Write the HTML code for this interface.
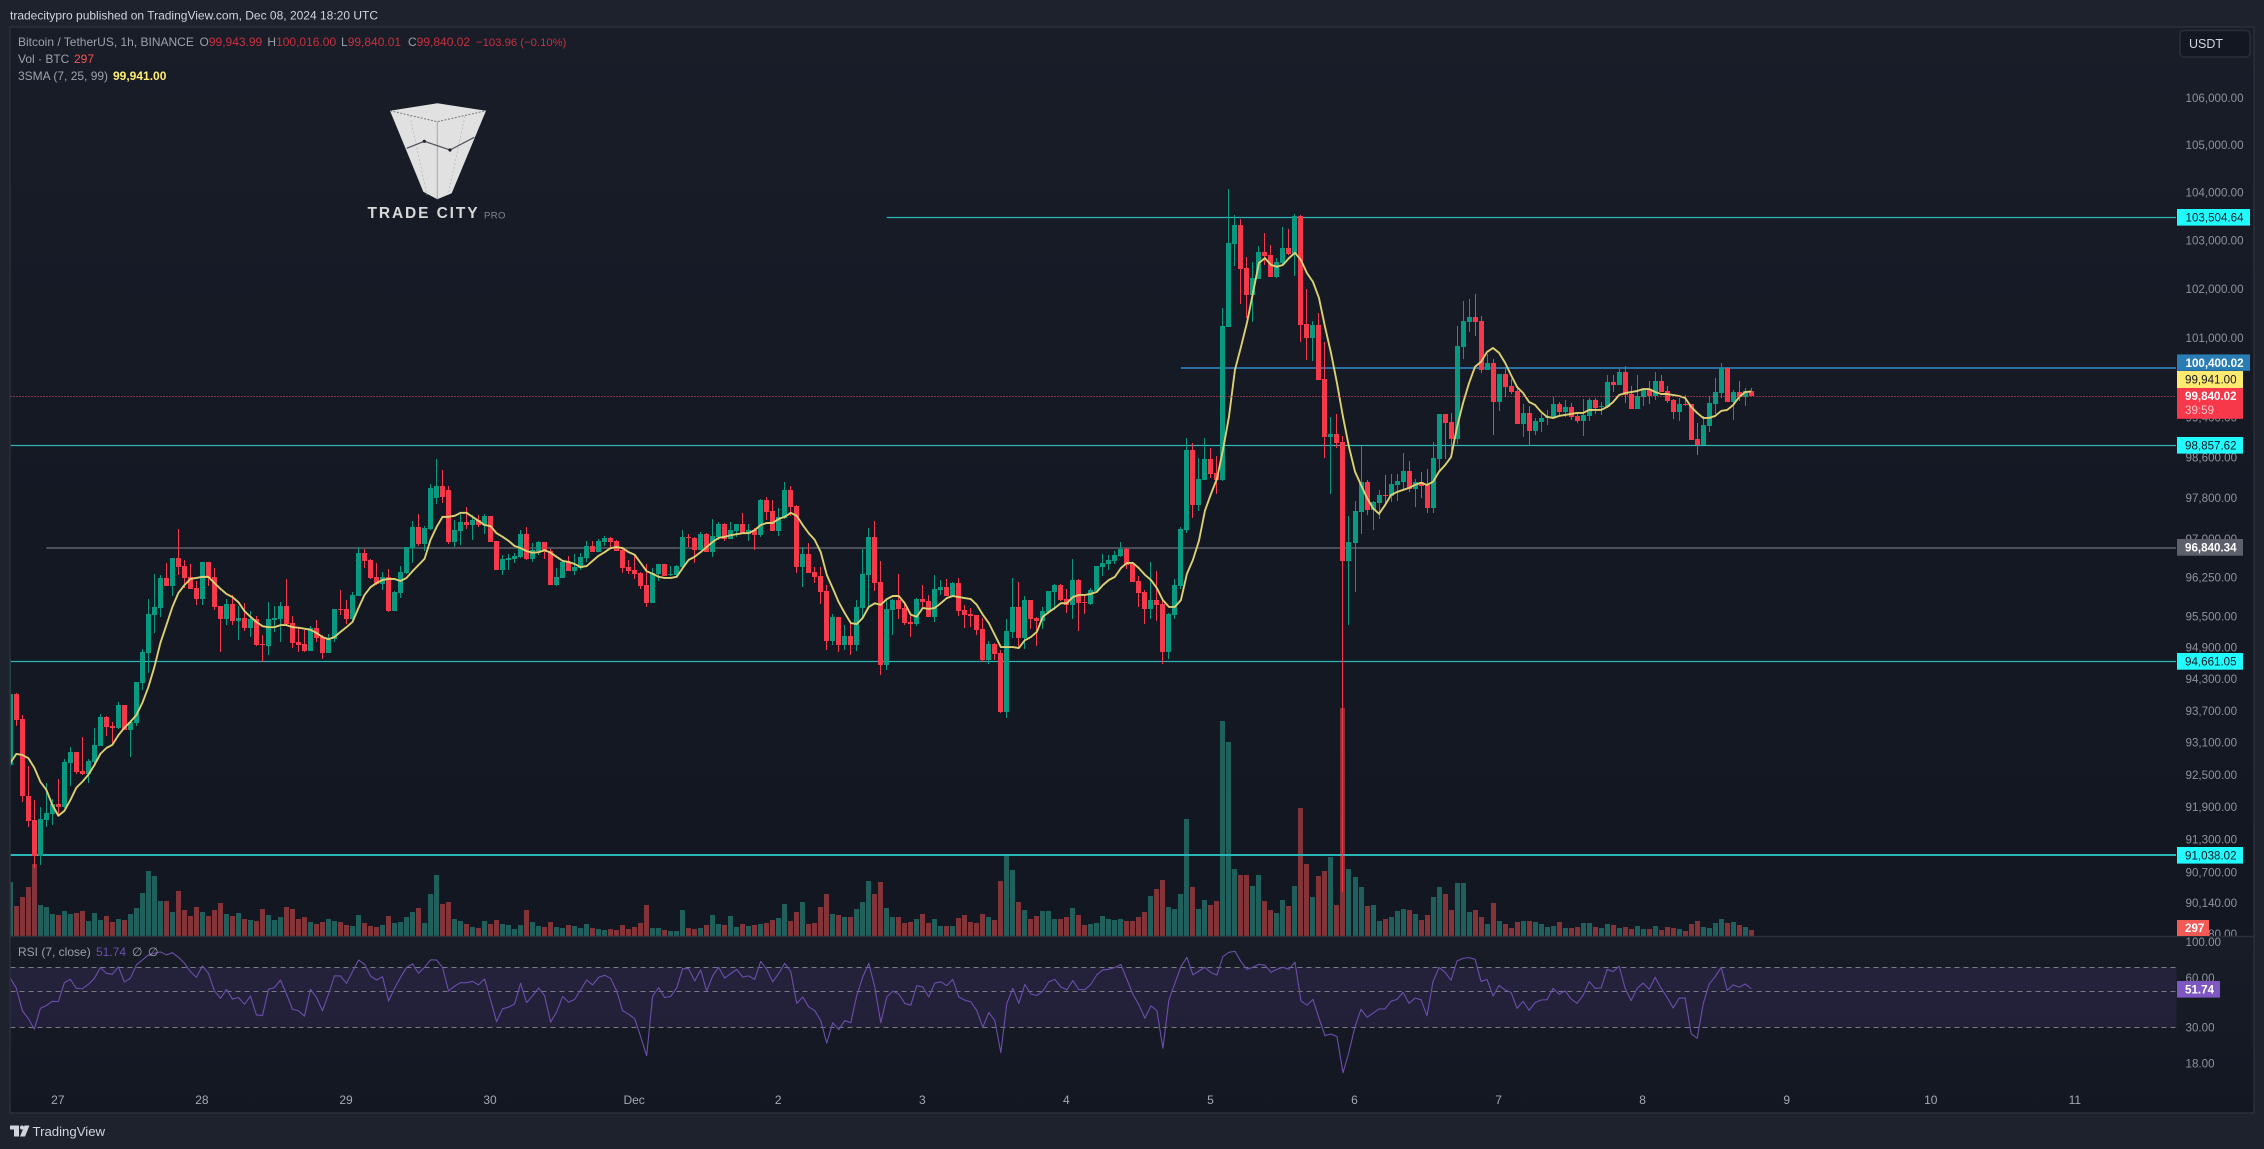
<!DOCTYPE html>
<html lang="en">
<head>
<meta charset="utf-8">
<title>BTCUSDT chart</title>
<style>
html,body{margin:0;padding:0;background:#1e222d;width:2264px;height:1149px;overflow:hidden}
svg{display:block}
text{font-family:"Liberation Sans",sans-serif}
</style>
</head>
<body>
<svg id="chart" width="2264" height="1149" viewBox="0 0 2264 1149" xmlns="http://www.w3.org/2000/svg">
<defs>
<linearGradient id="pg" x1="0" y1="0" x2="0" y2="1"><stop offset="0" stop-color="#191d28"/><stop offset="0.55" stop-color="#141823"/><stop offset="1" stop-color="#131722"/></linearGradient>
<linearGradient id="rg" x1="0" y1="0" x2="0" y2="1"><stop offset="0" stop-color="#181c27"/><stop offset="1" stop-color="#131722"/></linearGradient>
<clipPath id="mainClip"><rect x="10.5" y="27" width="2166" height="909"/></clipPath>
<clipPath id="axisClip"><rect x="2177" y="27" width="76" height="909"/></clipPath>
<clipPath id="rsiClip"><rect x="10.5" y="937" width="2166" height="176"/></clipPath>
</defs>
<rect x="0" y="0" width="2264" height="1149" fill="#1e222d"/>
<text x="10" y="19.5" font-size="12" fill="#d1d4dc">tradecitypro published on TradingView.com, Dec 08, 2024 18:20 UTC</text>
<rect x="10" y="27" width="2244" height="909" fill="url(#pg)"/>
<rect x="10" y="936" width="2244" height="177" fill="url(#rg)"/>

<g id="volumeLayer" clip-path="url(#mainClip)"></g>
<g id="levelLayer" clip-path="url(#mainClip)"></g>
<g id="candleLayer" clip-path="url(#mainClip)"></g>
<polyline id="smaLine" clip-path="url(#mainClip)" fill="none" stroke="#dcd072" stroke-width="1.9" stroke-linejoin="round"/>
<line id="lastPriceLine" x1="10.5" x2="2176" stroke="#f7525f" stroke-width="1" stroke-dasharray="1 2"/>

<rect id="rsiBand" x="10.5" width="2166" fill="#7e57c2" fill-opacity="0.13"/>
<g id="rsiGuides"></g>
<polyline id="rsiLine" clip-path="url(#rsiClip)" fill="none" stroke="#6c4eac" stroke-width="1.1" stroke-linejoin="round"/>

<g id="priceTicks" clip-path="url(#axisClip)"></g>
<g id="rsiTicks"></g>
<g id="timeTicks"></g>

<line x1="10" x2="2254" y1="936.5" y2="936.5" stroke="#2a2e39" stroke-width="1.5"/>
<rect x="10" y="27" width="2244" height="1086" fill="none" stroke="#2a2e39" stroke-width="1.6"/>

<g font-size="12">
<text x="18" y="46" fill="#9ea1aa">Bitcoin / TetherUS, 1h, BINANCE</text>
<text x="199.5" y="46" fill="#9ea1aa">O<tspan fill="#c9303f">99,943.99</tspan></text>
<text x="267.4" y="46" fill="#9ea1aa">H<tspan fill="#c9303f">100,016.00</tspan></text>
<text x="341" y="46" fill="#9ea1aa">L<tspan fill="#c9303f">99,840.01</tspan></text>
<text x="408" y="46" fill="#9ea1aa">C<tspan fill="#c9303f">99,840.02</tspan></text>
<text x="476" y="46" font-size="11.3" fill="#c9303f">−103.96 (−0.10%)</text>
<text x="18" y="63" fill="#9ea1aa">Vol · BTC</text>
<text x="74" y="63" fill="#f25555">297</text>
<text x="18" y="80" fill="#9ea1aa">3SMA (7, 25, 99)</text>
<text x="113" y="80" fill="#ffee70" font-weight="bold">99,941.00</text>
<text x="18" y="956" fill="#9ea1aa">RSI (7, close)</text>
<text x="96" y="956" fill="#6e4fb0">51.74</text>
<text x="132" y="956" fill="#9ea1aa">∅</text>
<text x="148" y="956" fill="#9ea1aa">∅</text>
</g>

<g>
<polygon points="390,110.7 437.3,103.3 486,110.7 451.7,193.3 437.3,199.3 423.3,191.7" fill="#e1e1e1"/>
<polyline points="390,110.7 437.3,121.7 486,110.7" fill="none" stroke="#77797e" stroke-width="1" stroke-dasharray="2 1.5"/>
<line x1="437.3" y1="121.7" x2="437.3" y2="199.3" stroke="#a5a6a9" stroke-width="1"/>
<line x1="410" y1="116" x2="427" y2="195" stroke="#b8b9bb" stroke-width="0.8" stroke-dasharray="2 2"/>
<line x1="465" y1="116" x2="448" y2="195" stroke="#b8b9bb" stroke-width="0.8" stroke-dasharray="2 2"/>
<polyline points="406.7,148.3 424.3,141.3 450,150 474.3,137.3" fill="none" stroke="#50525a" stroke-width="1.2"/>
<circle cx="424.3" cy="141.3" r="1.6" fill="#1b1f2a"/>
<circle cx="450" cy="150" r="1.6" fill="#1b1f2a"/>
<text x="367.5" y="218" font-size="15.5" font-weight="bold" letter-spacing="1.9" fill="#d8d8d8">TRADE CITY</text>
<text x="484" y="218.5" font-size="9.5" letter-spacing="0.4" fill="#85878d">PRO</text>
</g>

<g>
<rect x="2180" y="30.5" width="70" height="26.5" rx="4" fill="#131722" stroke="#2a2e39" stroke-width="1.5"/>
<text x="2189" y="48" font-size="12.5" fill="#d1d4dc">USDT</text>
</g>

<g font-size="11.6">
<rect x="2177" y="209" width="73" height="16.6" fill="#22fbfd"/>
<text x="2185.5" y="221.5" fill="#131722">103,504.64</text>
<rect x="2177" y="354.4" width="73" height="16.4" fill="#2a7cb5"/>
<text x="2185.5" y="366.8" fill="#ffffff" font-weight="bold">100,400.02</text>
<rect x="2177" y="371" width="66" height="17" fill="#ffea70"/>
<text x="2185" y="383.6" fill="#131722">99,941.00</text>
<rect x="2177" y="388" width="66" height="30.8" fill="#f7374a"/>
<text x="2185" y="400" fill="#ffffff" font-weight="bold">99,840.02</text>
<text x="2185" y="414" fill="#fbc3c9">39:59</text>
<rect x="2177" y="437" width="66" height="16.6" fill="#22fbfd"/>
<text x="2185" y="449.4" fill="#131722">98,857.62</text>
<rect x="2177" y="539" width="66" height="16.7" fill="#5d606b"/>
<text x="2185" y="551.4" fill="#ffffff" font-weight="bold">96,840.34</text>
<rect x="2177" y="653" width="66" height="16.7" fill="#22fbfd"/>
<text x="2185" y="665.4" fill="#131722">94,661.05</text>
<rect x="2177" y="847" width="66" height="16.6" fill="#22fbfd"/>
<text x="2185" y="859.4" fill="#131722">91,038.02</text>
<rect x="2177" y="920" width="32" height="16" fill="#f25a55"/>
<text x="2185" y="932.2" fill="#ffffff" font-weight="bold">297</text>
<rect x="2177" y="981" width="43" height="16.6" fill="#7e57c2"/>
<text x="2185" y="993.4" fill="#ffffff" font-weight="bold">51.74</text>
</g>

<g>
<rect x="10" y="1125.5" width="9" height="4" fill="#d1d4dc"/>
<rect x="14" y="1125.5" width="5" height="11" fill="#d1d4dc"/>
<circle cx="22" cy="1127.5" r="2" fill="#d1d4dc"/>
<polygon points="24.5,1125.5 29.5,1125.5 25,1136.5 20,1136.5" fill="#d1d4dc"/>
<text x="32.5" y="1136" font-size="13.2" fill="#d1d4dc">TradingView</text>
</g>

<script>
// ---- chart data ----
const opens = [
92700,94040,93560,92130,91680,91020,91680,91790,91980,91920,
92740,92950,92590,92540,92760,93060,93600,93430,93400,93830,
93360,93490,94250,94820,95540,95680,96260,96100,96650,96490,
96280,96060,95850,96570,96280,95720,95470,95760,95430,95490,
95300,95470,94990,94950,95450,95470,95720,95390,95030,94990,
94860,95300,95120,94820,95080,95660,95660,95470,95910,96740,
96610,96280,96140,96280,95620,95970,96360,96840,97250,96920,
97210,97820,98060,97980,96960,97170,97350,97290,97390,97290,
97470,96980,96410,96610,96630,96670,97110,96630,96780,96960,
96780,96120,96260,96570,96390,96450,96650,96880,96760,96960,
97040,96980,96800,96470,96410,96360,96120,95770,96340,96530,
96310,96320,96470,97060,97040,96800,97110,96760,97060,97310,
97020,97170,97310,97110,97190,97090,97780,97570,97170,97430,
97980,97660,96470,96730,96380,96300,96010,95050,95510,94970,
95140,94970,95680,96320,97060,96180,94590,95640,95830,95680,
95410,95370,95850,95810,95510,96030,96080,95910,96160,95640,
95570,95550,95280,94680,94990,94820,93700,95220,95700,95100,
95830,95490,95430,95600,95990,96120,95850,95740,96220,95790,
95760,96010,96470,96530,96590,96690,96820,96530,96200,95990,
95660,95830,95760,94840,95550,96100,97190,98770,97680,98180,
98590,98320,98180,101250,102950,103350,102460,101900,102230,102790,
102730,102270,102560,102870,102750,103540,101310,101030,101290,100190,
99030,99090,98930,96590,96940,97550,98140,97590,97720,97880,
97860,98080,98140,98360,98000,98140,98080,97620,98590,99490,
99330,98990,100840,101350,101450,101370,100380,100520,99730,100300,
100050,99950,99290,99510,99150,99330,99410,99410,99690,99530,
99630,99450,99350,99450,99770,99630,99630,100130,100070,100330,
99890,99590,99830,99990,99850,100150,99950,99770,99530,99690,
99690,98990,98870,99250,99690,99910,100420,99730,99930,99830,99944];
const closes = [
94040,93550,92120,91670,91020,91700,91810,91980,91920,92760,
92950,92570,92540,92780,93080,93600,93410,93400,93830,93360,
93510,94270,94840,95560,95700,96260,96100,96650,96470,96260,
96050,95850,96570,96260,95700,95470,95760,95430,95490,95300,
95470,94970,94960,95470,95490,95720,95370,95010,94970,94860,
95300,95100,94820,95100,95660,95640,95470,95930,96740,96590,
96260,96140,96280,95620,95990,96380,96860,97250,96920,97230,
98020,98060,97840,96960,97190,97350,97290,97390,97290,97470,
96960,96410,96630,96650,96690,97110,96630,96800,96960,96760,
96120,96280,96570,96390,96470,96670,96880,96760,96980,97040,
96960,96780,96450,96390,96340,96100,95770,96360,96530,96300,
96340,96490,97060,97040,96800,97110,96760,97080,97310,97020,
97190,97310,97110,97190,97090,97780,97550,97170,97450,97980,
97640,96470,96730,96360,96280,95990,95050,95510,94970,95140,
94970,95700,96340,97060,96160,94590,95660,95830,95660,95390,
95370,95850,95790,95510,96050,96080,95910,96160,95620,95550,
95530,95260,94680,94990,94800,93700,95240,95700,95100,95830,
95470,95430,95620,96010,96120,95830,95740,96220,95770,95770,
96030,96490,96550,96610,96710,96820,96510,96180,95970,95660,
95830,95740,94840,95570,96120,97210,98770,97680,98200,98590,
98300,98180,101270,102970,103350,102440,101900,102250,102790,102710,
102270,102580,102870,102750,103540,101290,101030,101290,100170,99030,
99090,98910,96590,96960,97570,98140,97590,97740,97880,97860,
98100,98160,98360,98000,98140,98060,97620,98610,99490,99310,
98990,100860,101370,101450,101350,100380,100520,99730,100300,100030,
99930,99290,99510,99150,99350,99410,99450,99690,99530,99630,
99430,99350,99470,99770,99610,99650,100130,100070,100330,99870,
99590,99850,99990,99850,100150,99930,99750,99530,99690,99670,
98970,98870,99270,99710,99930,100420,99730,99930,99830,99950,99840];
const highs = [
94700,94060,93640,92690,92050,91920,92360,92070,92440,92810,
93030,92950,93220,92810,93390,93660,93620,93510,93890,93830,
93550,94270,94890,95860,96340,96320,96540,96650,97210,96610,
96530,96200,96570,96570,96450,95720,95850,95930,95720,95780,
95620,95530,95160,95790,95710,95790,96240,95530,95310,95260,
95330,95450,95160,95180,95660,96030,95830,95990,96860,96820,
96630,96550,96380,96430,96010,96490,96860,97370,97510,97270,
98100,98590,98370,98060,97390,97510,97640,97490,97490,97510,
97470,96980,96710,96730,96750,97190,97250,96940,96980,96960,
96820,96450,96590,96690,96730,96750,96980,96980,97020,97080,
97060,97000,96860,96610,96710,96380,96530,96450,96530,96530,
96490,96510,97190,97110,97060,97150,97130,97410,97350,97330,
97350,97310,97530,97310,97230,97800,97840,97780,97620,98140,
98060,97680,96860,96940,96470,96470,96120,95570,95510,95350,
95410,95830,96820,97230,97370,96590,95830,95850,96340,95760,
95530,95870,96120,95930,96320,96220,96240,96180,96260,95740,
95680,95550,95490,95050,95010,94870,95470,96260,96180,95910,
95830,95510,95700,96010,96140,96140,96050,96630,96240,95910,
96060,96490,96730,96710,96780,96960,96840,96550,96300,96030,
96570,96390,95810,95590,96240,97250,99010,98910,98610,99010,
98810,98650,101640,104100,103560,103470,102680,102580,102910,103180,
102930,102660,103310,103270,103580,103560,102030,101370,101530,100940,
99430,99490,99050,97470,97760,98850,98180,97760,97980,98280,
98300,98300,98710,98550,98200,98340,98400,98930,99490,99490,
99510,101270,101780,101820,101920,101470,100700,100600,100300,100440,
100190,100050,99690,99650,99410,99490,99570,99830,99730,99770,
99710,99530,99790,99810,99810,99730,100270,100270,100400,100460,
100050,100270,100010,100150,100330,100270,100050,99790,99810,99870,
99690,99310,99450,99850,100210,100520,100440,99970,100150,100010,100016];
const lows = [
92670,93430,92020,91560,90800,90860,91560,91590,91760,91900,
92310,92540,92520,92370,92730,93050,93250,93110,93370,93350,
92860,93430,94110,94430,95190,95510,96100,95910,96320,96060,
96050,95740,95740,96100,95640,94840,95350,95350,95060,95240,
95120,94950,94650,94780,95220,95030,95350,94910,94840,94840,
94860,95030,94700,94820,95030,95550,95370,95450,95910,96450,
96240,96120,96030,95600,95620,95870,96340,96550,96880,96780,
97190,97700,97720,96920,96860,96900,97210,97000,97250,97110,
96960,96410,96320,96410,96550,96650,96610,96570,96710,96630,
96120,96100,96260,96390,96320,96410,96570,96760,96760,96880,
96840,96780,96360,96340,96240,96050,95700,95770,96200,96300,
96300,96300,96450,96860,96550,96800,96760,96670,97000,96980,
97020,97060,97110,96980,96800,97060,97390,97170,97080,97410,
97470,96360,96080,96360,96160,95760,94870,94970,94840,94870,
94780,94860,95510,95700,96010,94400,94490,95160,95470,95350,
95120,95330,95700,95510,95410,95930,95910,95910,95530,95300,
95310,95160,94650,94610,94680,93680,93580,95100,94890,94890,
95280,94950,95280,95570,95640,95810,95580,95470,95240,95570,
95740,95990,96300,96410,96530,96670,96430,96180,95700,95370,
95470,95430,94610,94700,95470,96050,97130,97430,97570,98180,
98220,97900,98160,101250,102500,101720,101430,101350,102230,102520,
102270,102250,102540,102730,102290,100950,100580,100560,100170,98610,
97900,98810,90360,95350,95990,97110,97490,97190,97410,97660,
97740,97760,98000,97940,97640,97820,97530,97530,98370,98590,
98770,98890,100600,101150,101070,100320,100380,99070,99550,99830,
99890,99290,99030,98850,99070,99130,99270,99390,99450,99430,
99370,99310,99050,99350,99490,99470,99610,99930,100070,99710,
99590,99590,99650,99690,99770,99930,99710,99390,99350,99650,
98970,98670,98870,99130,99490,99810,99730,99370,99750,99650,99840];
const volumes = [
2700,1500,1950,2450,3600,1550,1450,1100,1050,1250,
1100,1150,1250,750,1150,800,1000,700,850,800,
1100,1400,2150,3250,3000,1750,1750,1200,2250,1300,
1000,1450,1200,1000,1300,1650,1100,1000,1150,850,
800,750,1350,1050,800,950,1450,1350,850,950,
700,600,700,850,750,700,550,500,1050,650,
500,450,550,1000,650,700,950,1200,1400,650,
2100,3050,1600,1700,850,750,600,450,400,750,
600,800,600,550,350,550,1300,700,500,450,
700,450,400,550,500,400,600,400,350,300,
350,300,550,350,450,650,1550,400,400,300,
250,250,1300,400,350,400,550,1050,600,550,
1000,450,600,500,550,600,650,800,900,1600,
750,1200,1700,600,650,1450,2100,1100,1050,950,
950,1350,1700,2750,2100,2700,1400,950,950,650,
700,850,1100,650,850,500,500,500,900,1050,
700,650,1100,950,800,2750,4000,3300,1700,1300,
850,1000,1250,1250,850,850,950,1400,1050,550,
600,650,1000,850,800,850,750,750,950,1200,
2000,2350,2800,1450,1350,2100,5850,2450,1350,1800,
1550,1750,10750,9700,3350,3050,3050,2500,3050,1750,
1300,1150,1800,1500,2500,6400,3600,1950,3000,3250,
3950,1550,11400,3350,2950,2450,1500,1550,750,850,
950,1250,1350,1300,1100,800,1050,1950,2450,2100,
1300,2650,2650,1200,1300,950,600,1650,750,600,
400,700,750,750,700,600,450,500,700,400,
400,450,650,650,450,400,600,550,400,450,
350,500,350,350,500,300,450,400,350,250,
600,750,450,400,650,850,650,700,550,450,297];
const smaValues = [
92740,92910,92890,92830,92650,92390,92240,91960,91760,91850,
92050,92280,92390,92520,92700,92910,93020,93080,93260,93400,
93510,93640,93870,94170,94550,95010,95350,95700,95970,96120,
96240,96260,96280,96280,96160,96050,95950,95890,95790,95620,
95510,95410,95330,95310,95310,95350,95350,95310,95300,95280,
95260,95200,95120,95080,95120,95220,95310,95410,95680,95930,
96080,96160,96220,96240,96240,96200,96260,96390,96510,96630,
97000,97250,97450,97450,97470,97530,97530,97450,97370,97290,
97270,97130,97060,96980,96880,96840,96780,96750,96760,96800,
96750,96670,96590,96570,96530,96470,96490,96590,96690,96760,
96840,96860,96840,96760,96710,96550,96390,96340,96280,96260,
96260,96280,96450,96610,96670,96760,96860,96960,97040,97060,
97090,97110,97130,97130,97190,97290,97330,97330,97410,97450,
97530,97470,97290,97130,97000,96760,96320,96060,95790,95580,
95390,95370,95490,95700,95770,95740,95850,95910,95910,95770,
95550,95510,95680,95660,95680,95770,95870,95910,95890,95870,
95850,95740,95550,95390,95160,94930,94930,94930,94910,95060,
95120,95220,95510,95600,95680,95770,95770,95890,95930,95930,
95950,95990,96120,96220,96280,96450,96550,96550,96450,96320,
96220,96060,95830,95700,95700,95830,96340,96610,96980,97570,
97900,98200,98770,99430,100375,100840,101330,101940,102560,102660,
102520,102480,102520,102660,102770,102620,102350,102170,101840,101250,
100720,100110,99430,98830,98340,98080,97820,97620,97510,97680,
97880,97940,97980,98020,98080,98120,98080,98140,98340,98470,
98630,99230,99710,100110,100440,100540,100740,100820,100720,100520,
100270,100030,99910,99730,99670,99530,99430,99410,99450,99470,
99490,99510,99510,99570,99570,99570,99630,99730,99870,99910,
99930,99950,99990,99990,99930,99890,99890,99870,99850,99810,
99630,99510,99410,99410,99450,99550,99570,99670,99830,99930,99941];
const rsiValues = [
59.9,52,37.9,33.9,29.2,39.2,40.8,43.3,43.1,56.3,
59,52,51.7,55,59.9,69.8,64.3,63.4,70.6,56.9,
59.9,72.3,77.6,83.3,85.3,87,83.3,86,80.6,74.1,
65.8,60.7,71.3,64.3,50.2,45.1,51.3,44.7,45.7,41.5,
46.6,35.7,35.4,51.3,52.5,58.5,48,38.7,37.9,35.1,
51.3,45.7,37.9,48,61.9,61.9,55.8,65.8,77.6,73,
61.9,58.5,61.3,43.5,52,60.7,69.8,73.4,64.3,70,
77.6,77.6,69.8,50,53.7,56.3,56.3,57.3,54.6,59.3,
44.1,32.5,39,39.8,41.7,55.8,42.5,46.8,52.3,46.8,
32.3,37.2,46.4,42.7,44.5,50.8,58.5,54.6,60.7,62.5,
59.9,50.2,37.9,36.1,33.9,26.3,20.1,46.6,52.5,45.7,
46.4,52.3,68.6,68.6,57.7,67.4,50,62,70,60,
64,68,61,62,59,76,68,57,64,74,
66,42,46,40,38,33,24,32,29,33,
32,47,61,74,53,32,46,50,48,42,
41,54,53,46,56,57,54,59,46,44,
43,38,30,37,33,21,42,52,42,55,
48,47,50,57,59,53,51,58,51,51,
55,63,67.4,68,69.8,72.8,59,47.8,41.2,34.1,
40.6,37.9,22.3,44.1,55.8,70.6,80.6,62.8,66.4,70,
64.9,62.8,81.4,86.5,87.7,75.9,68,70,73,72,
65.2,68,70,68,75.2,43.5,41,44.5,34.1,26.7,
27.3,26.3,15.8,21.2,30.3,38.7,34.6,36.6,38.9,38.9,
43.3,44.5,49.1,42.1,45.3,44.3,35.3,57.3,69.8,65.2,
58.2,76.5,79.5,80.2,78.3,57.3,59,46.6,54.2,50.8,
49.1,39.2,43.3,38.1,42.5,44.1,44.3,52,47.8,50.2,
44.7,42.1,47.2,57.3,52,52.3,68,65.8,71.3,52,
43.7,52,56,51.3,60.7,52,45.7,39.4,45.3,45.3,
27.4,25.7,41.7,55.3,61.3,70,50.5,54.6,52.8,55.3,51.74];
const priceTickValues = [106000,105000,104000,103000,102000,101000,100200,99400,98600,97800,97000,96250,95500,94900,94300,93700,93100,92500,91900,91300,90700,90140,89580];
const rsiTickValues = [100,60,30,18];
const rsiGuideValues = [70,50,30];
const dayLabels = ['27','28','29','30','Dec','2','3','4','5','6','7','8','9','10','11'];
const dayStartBars = [8,32,56,80,104,128,152,176,200,224,248,272,296,320,344];
const levelPrices = [103504.64,100400.02,98857.62,96840.34,94661.05,91038.02];
const levelStartBars = [146,195,-2,6,-2,-2];
const levelNames = ['level-103504','level-100400','level-98857','level-96840','level-94661','level-91038'];
const levelColors = ['#2ab6b8','#2b6ea3','#2ab6b8','#4c4e59','#2ab6b8','#2ab6b8'];
const levelWidths = [1.2,2,1.2,2,1.2,2];
const lastPrice = 99840.02;

// ---- axis functions ----
const SVGNS = 'http://www.w3.org/2000/svg';
function barX(i){ return 10.33 + 6.003 * i; }
function priceY(p){ return 855 - 4968 * Math.log(p / 91038.02); }
function volumeY(v){ return 936 - v / 50; }
function rsiY(r){ return 1027.3 - 70.85 * Math.log(r / 30); }
function mk(tag, attrs){
  const el = document.createElementNS(SVGNS, tag);
  for (const k in attrs) el.setAttribute(k, attrs[k]);
  return el;
}

// volume bars
const volumeLayer = document.getElementById('volumeLayer');
volumes.forEach(function(v, i){
  const up = closes[i] >= opens[i];
  const left = Math.round(barX(i) - 2.5);
  const top = Math.round(volumeY(v));
  const el = mk('rect', {x: left, y: top, width: 5, height: 936 - top, fill: up ? '#1f5f5c' : '#823439'});
  
  
  volumeLayer.appendChild(el);
});

// horizontal levels
const levelLayer = document.getElementById('levelLayer');
levelPrices.forEach(function(p, i){
  const raw = priceY(p);
  const y = levelWidths[i] === 2 ? Math.floor(raw) : Math.floor(raw) + 0.5;
  const el = mk('line', {x1: barX(levelStartBars[i]), x2: 2176, y1: y, y2: y, stroke: levelColors[i], 'stroke-width': levelWidths[i]});
  
  
  levelLayer.appendChild(el);
});

// candles
const candleLayer = document.getElementById('candleLayer');
opens.forEach(function(o, i){
  const c = closes[i];
  const up = c >= o;
  const color = up ? '#089981' : '#f7374a';
  const left = Math.round(barX(i) - 2.5);
  const bodyTop = Math.round(priceY(Math.max(o, c)));
  const bodyBottom = Math.round(priceY(Math.min(o, c)));
  const wickTop = Math.round(priceY(highs[i]));
  const wickBottom = Math.round(priceY(lows[i]));
  const g = mk('g', {});
  
  
  const wick = mk('rect', {x: left + 2, y: wickTop, width: 1, height: Math.max(1, wickBottom - wickTop), fill: color});
  
  
  const body = mk('rect', {x: left, y: bodyTop, width: 5, height: Math.max(1, bodyBottom - bodyTop), fill: color});
  
  
  g.appendChild(wick);
  g.appendChild(body);
  candleLayer.appendChild(g);
});

// SMA
document.getElementById('smaLine').setAttribute('points', smaValues.map(function(v, i){ return barX(i).toFixed(2) + ',' + priceY(v).toFixed(2); }).join(' '));

// last price dotted
const lpY = Math.round(priceY(lastPrice)) + 0.5;
const lpLine = document.getElementById('lastPriceLine');
lpLine.setAttribute('y1', lpY);
lpLine.setAttribute('y2', lpY);

// RSI
const band = document.getElementById('rsiBand');
band.setAttribute('y', rsiY(rsiGuideValues[0]));
band.setAttribute('height', rsiY(rsiGuideValues[2]) - rsiY(rsiGuideValues[0]));
const rsiGuides = document.getElementById('rsiGuides');
rsiGuideValues.forEach(function(r){
  const y = Math.round(rsiY(r)) + 0.5;
  const el = mk('line', {x1: 10.5, x2: 2176, y1: y, y2: y, stroke: '#787b86', 'stroke-width': 1, 'stroke-dasharray': '5 4'});
  
  
  rsiGuides.appendChild(el);
});
document.getElementById('rsiLine').setAttribute('points', rsiValues.map(function(r, i){ return barX(i).toFixed(2) + ',' + rsiY(r).toFixed(2); }).join(' '));

// axis labels
function fmt(v){ return v.toLocaleString('en-US', {minimumFractionDigits: 2, maximumFractionDigits: 2}); }
const priceTicks = document.getElementById('priceTicks');
priceTickValues.forEach(function(v){
  const el = mk('text', {x: 2185.5, y: priceY(v) + 3, 'font-size': 11.6, fill: '#8f929b'});
  
  
  el.textContent = fmt(v);
  priceTicks.appendChild(el);
});
const rsiTicks = document.getElementById('rsiTicks');
rsiTickValues.forEach(function(v){
  const el = mk('text', {x: 2185.5, y: rsiY(v) + 4, 'font-size': 11.6, fill: '#8f929b'});
  
  
  el.textContent = fmt(v);
  rsiTicks.appendChild(el);
});
const timeTicks = document.getElementById('timeTicks');
dayLabels.forEach(function(d, i){
  const el = mk('text', {x: barX(dayStartBars[i]) - 0.5, y: 1104, 'font-size': 12, fill: '#a6a9b1', 'text-anchor': 'middle'});
  
  
  el.textContent = d;
  timeTicks.appendChild(el);
});
</script>
</svg>
</body>
</html>
